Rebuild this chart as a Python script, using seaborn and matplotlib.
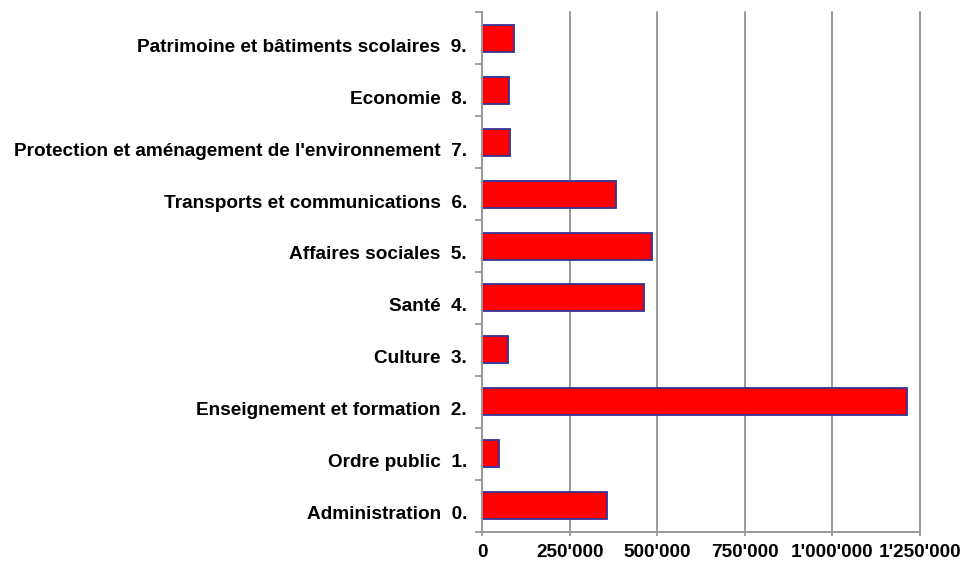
import matplotlib
matplotlib.use("Agg")
import matplotlib.pyplot as plt
import matplotlib.transforms as mtransforms
import seaborn as sns
import pandas as pd
from matplotlib.ticker import FixedLocator

# Budget by function (francs)
codes = ["0.", "1.", "2.", "3.", "4.", "5.", "6.", "7.", "8.", "9."]
names = [
    "Administration",
    "Ordre public",
    "Enseignement et formation",
    "Culture",
    "Santé",
    "Affaires sociales",
    "Transports et communications",
    "Protection et aménagement de l'environnement",
    "Economie",
    "Patrimoine et bâtiments scolaires",
]
amounts = [357000, 48000, 1212000, 74000, 463000, 485000, 382000, 78000, 77000, 90000]

x_ticks = [0, 250000, 500000, 750000, 1000000, 1250000]
x_tick_labels = ["0", "250'000", "500'000", "750'000", "1'000'000", "1'250'000"]

sns.set_theme(style="white")
plt.rcParams["font.family"] = ["Liberation Sans", "DejaVu Sans"]
plt.rcParams["font.weight"] = "bold"

labels = [f"{n}  {c}" for n, c in zip(names, codes)]
df = pd.DataFrame({"label": labels, "amount": amounts})
order = labels[::-1]

fig = plt.figure(figsize=(9.8, 5.63), dpi=100)
ax = fig.add_axes([0.4921, 0.0556, 0.9388 - 0.4921, 0.9782 - 0.0556])

sns.barplot(
    data=df, x="amount", y="label", order=order, orient="h",
    color="#ff0000", saturation=1, width=0.52,
    edgecolor="#333399", linewidth=1.3, ax=ax,
)

ax.set_xlim(0, 1250000)
ax.set_ylim(len(labels) - 0.5, -0.5)
ax.set_xlabel("")
ax.set_ylabel("")

ax.set_xticks(x_ticks)
ax.set_xticklabels(x_tick_labels, fontsize=13.7, fontweight="bold", color="black")
ax.tick_params(axis="x", which="major", direction="out", length=3,
               width=1.3, color="#999999", pad=6, bottom=True)

# category labels on major ticks; short outward ticks between categories
ax.tick_params(axis="y", which="major", length=0, pad=11)
ax.set_yticklabels(order, fontsize=13.7, fontweight="bold", color="black")
shift = mtransforms.ScaledTranslation(0, -5 / 72, fig.dpi_scale_trans)
for lbl in ax.get_yticklabels():
    lbl.set_transform(lbl.get_transform() + shift)
ax.yaxis.set_minor_locator(FixedLocator([i - 0.5 for i in range(len(labels) + 1)]))
ax.tick_params(axis="y", which="minor", direction="out", length=5,
               width=1.3, color="#999999", left=True)

ax.grid(axis="x", color="#999999", linewidth=1.4)
ax.grid(axis="y", visible=False)
ax.set_axisbelow(True)
for gl in ax.get_xgridlines():
    gl.set_clip_on(False)

for side in ["top", "right"]:
    ax.spines[side].set_visible(False)
for side in ["left", "bottom"]:
    ax.spines[side].set_color("#999999")
    ax.spines[side].set_linewidth(1.4)

fig.savefig("out.png", dpi=100)
